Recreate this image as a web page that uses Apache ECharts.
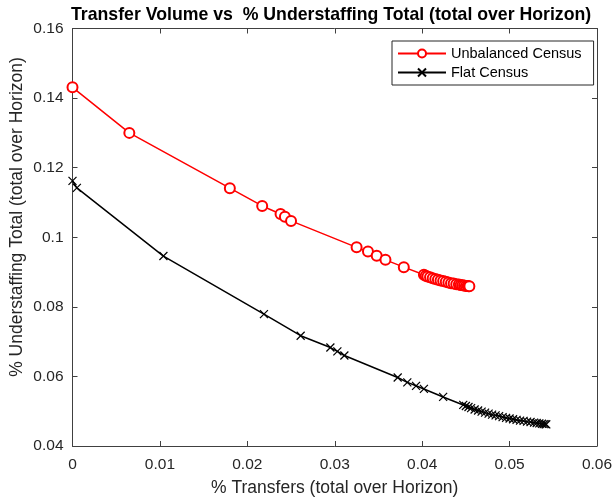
<!DOCTYPE html>
<html>
<head>
<meta charset="utf-8">
<script src="https://cdn.jsdelivr.net/npm/echarts@6/dist/echarts.min.js"></script>
<style>html,body{margin:0;padding:0;background:#fff;}#chart{width:614px;height:497px;}</style>
</head>
<body>
<div id="chart"></div>
<script>
const titleText = 'Transfer Volume vs  % Understaffing Total (total over Horizon)';
const xLabel = '% Transfers (total over Horizon)';
const yLabel = '% Understaffing Total (total over Horizon)';
const seriesNames = ['Unbalanced Census', 'Flat Census'];

const unbalancedX = [0, 0.0065, 0.0180, 0.0217, 0.0238, 0.0243, 0.0250, 0.0325, 0.0338, 0.0348, 0.0358, 0.0379,
  0.0402, 0.0404, 0.0406, 0.0409, 0.0412, 0.0415, 0.0418, 0.0421, 0.0424, 0.0427, 0.0430, 0.0433, 0.0436,
  0.0439, 0.0442, 0.0444, 0.0446, 0.0448, 0.0450, 0.0452, 0.0453, 0.0454];
const unbalancedY = [0.1431, 0.1300, 0.1141, 0.1090, 0.1067, 0.1059, 0.1047, 0.0971, 0.0959, 0.0947, 0.0935, 0.0914,
  0.0892, 0.0889, 0.0887, 0.0885, 0.0882, 0.0880, 0.0878, 0.0876, 0.0874, 0.0872, 0.0870, 0.0868, 0.0867,
  0.0865, 0.0864, 0.0863, 0.0862, 0.0861, 0.0860, 0.0860, 0.0859, 0.0859];

const flatX = [0, 0.0005, 0.0104, 0.0219, 0.0261, 0.0295, 0.0303, 0.0311, 0.0372, 0.0383, 0.0393, 0.0402, 0.0424,
  0.0447, 0.0450, 0.0453, 0.0456, 0.0460, 0.0464, 0.0468, 0.0472, 0.0476, 0.0480, 0.0484, 0.0488, 0.0492,
  0.0496, 0.0500, 0.0504, 0.0508, 0.0512, 0.0516, 0.0520, 0.0524, 0.0528, 0.0531, 0.0534, 0.0537, 0.0539, 0.0541, 0.0542];
const flatY = [0.1162, 0.1142, 0.0946, 0.0779, 0.0717, 0.0683, 0.0672, 0.0660, 0.0597, 0.0583, 0.0573, 0.0564, 0.0541,
  0.0518, 0.0515, 0.0512, 0.0509, 0.0505, 0.0502, 0.0499, 0.0496, 0.0493, 0.0490, 0.0488, 0.0486, 0.0483,
  0.0481, 0.0479, 0.0477, 0.0475, 0.0473, 0.0472, 0.0470, 0.0469, 0.0467, 0.0466, 0.0465, 0.0464, 0.0463, 0.0463, 0.0462];

const xTicks = [0, 0.01, 0.02, 0.03, 0.04, 0.05, 0.06];
const yTicks = [0.04, 0.06, 0.08, 0.1, 0.12, 0.14, 0.16];

const pairs = (xs, ys) => xs.map((x, i) => [x, ys[i]]);
const axisColor = '#404040';
const font = 'Liberation Sans, Arial, Helvetica, sans-serif';
const fmt = v => { const s = xTicks.concat(yTicks).find(t => Math.abs(t - v) < 1e-9); return s === undefined ? '' : String(+v.toFixed(2)); };

const baseX = {
  type: 'value', min: 0, max: 0.06, interval: 0.01,
  axisLine: { show: true, onZero: false, lineStyle: { color: axisColor, width: 1 } },
  axisTick: { show: true, inside: true, length: 5, lineStyle: { color: axisColor } },
  splitLine: { show: false }
};
const baseY = {
  type: 'value', min: 0.04, max: 0.16, interval: 0.02,
  axisLine: { show: true, onZero: false, lineStyle: { color: axisColor, width: 1 } },
  axisTick: { show: true, inside: true, length: 5, lineStyle: { color: axisColor } },
  splitLine: { show: false }
};

const chart = echarts.init(document.getElementById('chart'), null, { renderer: 'canvas' });
chart.setOption({
  backgroundColor: '#fff',
  animation: false,
  textStyle: { fontFamily: font },
  title: {
    text: titleText, left: 71, top: 6, padding: [0, 0, 0, 0],
    textStyle: { fontFamily: font, fontSize: 17.7, fontWeight: 'bold', color: '#000' }
  },
  grid: { left: 72.5, right: 17, top: 28.5, bottom: 51, containLabel: false, outerBoundsMode: 'none' },
  xAxis: [
    Object.assign({}, baseX, {
      position: 'bottom',
      name: xLabel, nameLocation: 'middle', nameGap: 33,
      nameTextStyle: { fontFamily: font, fontSize: 17.5, color: '#262626' },
      axisLabel: { show: true, margin: 11, fontSize: 15.5, fontFamily: font, color: '#262626', formatter: fmt }
    }),
    Object.assign({}, baseX, { position: 'top', axisLabel: { show: false } })
  ],
  yAxis: [
    Object.assign({}, baseY, {
      position: 'left',
      axisLabel: { show: true, margin: 9, fontSize: 15.5, fontFamily: font, color: '#262626', formatter: fmt }
    }),
    Object.assign({}, baseY, { position: 'right', axisLabel: { show: false } })
  ],
  graphic: [{
    type: 'text', x: 17, y: 217, rotation: Math.PI / 2,
    style: { text: yLabel, fontFamily: font, fontSize: 17.5, fill: '#262626', align: 'center', verticalAlign: 'middle' }
  }],
  legend: {
    show: true, orient: 'vertical', left: 392, top: 41,
    backgroundColor: '#fff', borderColor: '#262626', borderWidth: 1,
    padding: [4, 12, 4, 5], itemWidth: 48, itemHeight: 10, itemGap: 2,
    textStyle: { fontFamily: font, fontSize: 14.5, color: '#000', lineHeight: 17 },
    data: seriesNames
  },
  series: [
    {
      name: seriesNames[0], type: 'line', data: pairs(unbalancedX, unbalancedY),
      symbol: 'emptyCircle', symbolSize: 10, showAllSymbol: true,
      lineStyle: { color: '#ff0000', width: 1.5 },
      itemStyle: { color: '#ff0000', borderColor: '#ff0000', borderWidth: 1.3 },
      z: 3
    },
    {
      name: seriesNames[1], type: 'line', data: pairs(flatX, flatY),
      symbol: 'path://M0,0L10,10M10,0L0,10', symbolSize: 8, showAllSymbol: true,
      lineStyle: { color: '#000', width: 1.5 },
      itemStyle: { color: '#000', borderColor: '#000', borderWidth: 1.2 },
      z: 2
    }
  ]
});
</script>
</body>
</html>
